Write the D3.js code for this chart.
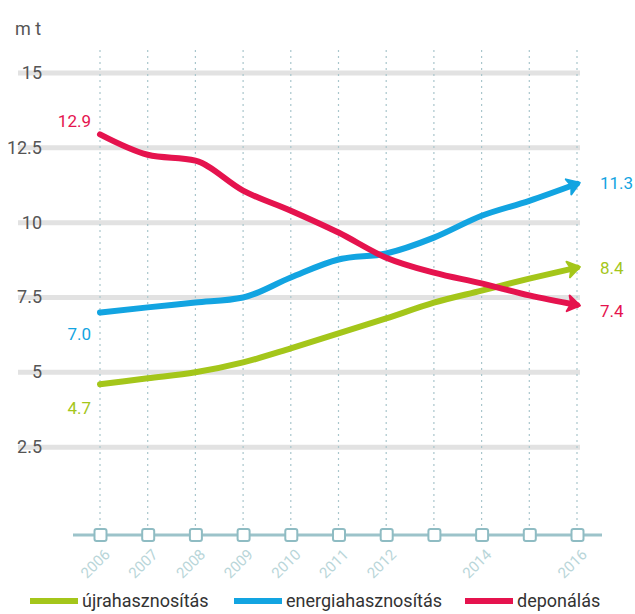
<!DOCTYPE html>
<html><head><meta charset="utf-8">
<script src="https://cdn.jsdelivr.net/npm/d3@7"></script>
<style>
html,body{margin:0;padding:0;background:#fff;}
svg{display:block;font-family:Roboto, "DejaVu Sans", sans-serif;}
</style></head>
<body><svg id="c" width="635" height="614"></svg>
<script>
const years = [2006,2007,2008,2009,2010,2011,2012,2013,2014,2015,2016];
const yearLabels = ["2006","2007","2008","2009","2010","2011","2012","","2014","","2016"];
const recycling = [4.6,4.8,5.0,5.33,5.8,6.3,6.8,7.33,7.73,8.13,8.5];
const energy = [7.0,7.17,7.33,7.5,8.17,8.77,8.97,9.5,10.23,10.73,11.3];
const landfill = [12.95,12.27,12.07,11.07,10.4,9.67,8.83,8.33,7.97,7.57,7.25];
const yTicks = [2.5,5,7.5,10,12.5,15];
const seriesNames = ["újrahasznosítás","energiahasznosítás","deponálás"];
const seriesColors = ["#a4c61a","#12a4e1","#e5134e"];
const startLabels = ["4.7","7.0","12.9"];
const endLabels = ["8.4","11.3","7.4"];
const unitLabel = "m t";

const svg = d3.select("#c");
const x = d3.scaleLinear().domain([2006,2016]).range([100,577]);
const y = d3.scaleLinear().domain([0,15]).range([522,73]);
const axisY = 535;

// horizontal grid bands
svg.append("g").selectAll("line").data(yTicks).join("line")
  .attr("x1",18).attr("x2",580)
  .attr("y1",d=>y(d)).attr("y2",d=>y(d))
  .attr("stroke","#e2e2e2").attr("stroke-width",5);

// vertical dashed lines
svg.append("g").selectAll("line").data(years).join("line")
  .attr("x1",d=>x(d)).attr("x2",d=>x(d))
  .attr("y1",50).attr("y2",axisY)
  .attr("stroke","#a9c6cc").attr("stroke-width",1.2).attr("stroke-dasharray","2,4");

// x axis
const xAxis = d3.axisBottom(x).tickValues(years).tickSize(0).tickPadding(0)
  .tickFormat((d,i)=>yearLabels[i]);
const gx = svg.append("g").attr("transform",`translate(0,${axisY})`).call(xAxis);
gx.select(".domain").remove();
gx.insert("line",":first-child").attr("x1",73).attr("x2",602).attr("y1",0).attr("y2",0)
  .attr("stroke","#9cc3ca").attr("stroke-width",3);
gx.selectAll(".tick").append("rect").attr("x",-6).attr("y",-6).attr("width",12).attr("height",12)
  .attr("rx",2).attr("fill","#fff").attr("stroke","#8fbcc3").attr("stroke-width",2);
gx.selectAll(".tick text").attr("font-size",15).attr("fill","#b9d6d9")
  .attr("text-anchor","end").attr("y",0).attr("dy","0.7em")
  .attr("transform","translate(3,13) rotate(-45)")
  .attr("font-family","Roboto, sans-serif");

// y axis labels
const yAxis = d3.axisLeft(y).tickValues(yTicks).tickSize(0).tickPadding(0)
  .tickFormat(d=>String(d));
const gy = svg.append("g").attr("transform","translate(42,0)").call(yAxis);
gy.select(".domain").remove();
gy.selectAll("text").attr("font-size",18).attr("fill","#555").attr("dy","0.3em")
  .attr("font-family","Roboto, sans-serif");

svg.append("text").attr("x",15).attr("y",35).attr("font-size",18).attr("fill","#555").text(unitLabel);

// arrow markers
const defs = svg.append("defs");
seriesColors.forEach((c,i)=>{
  defs.append("marker").attr("id","arr"+i).attr("markerUnits","userSpaceOnUse")
    .attr("viewBox","-10 -10 20 20").attr("refX",2).attr("refY",0)
    .attr("markerWidth",20).attr("markerHeight",20).attr("orient","auto")
    .append("path").attr("d","M-7,-8 L5,0 L-7,8 L-4,0 Z").attr("fill",c)
    .attr("stroke",c).attr("stroke-width",2).attr("stroke-linejoin","round");
});

const line = d3.line().x((d,i)=>x(years[i])).y(d=>y(d)).curve(d3.curveMonotoneX);
[recycling, energy, landfill].forEach((s,i)=>{
  svg.append("path").datum(s).attr("d",line).attr("fill","none")
    .attr("stroke",seriesColors[i]).attr("stroke-width",6)
    .attr("stroke-linecap","round").attr("stroke-linejoin","round")
    .attr("marker-end",`url(#arr${i})`);
});

// value labels
[recycling, energy, landfill].forEach((s,i)=>{
  svg.append("text").attr("x",x(years[0])-9).attr("y",[414,340,127][i])
    .attr("text-anchor","end").attr("font-size",17).attr("fill",seriesColors[i]).text(startLabels[i]);
  svg.append("text").attr("x",600).attr("y",[274,189,317][i])
    .attr("font-size",17).attr("fill",seriesColors[i]).text(endLabels[i]);
});

// legend
const legendX = [30,234,465];
const lg = svg.append("g").attr("transform","translate(0,601)");
seriesNames.forEach((n,i)=>{
  lg.append("line").attr("x1",legendX[i]).attr("x2",legendX[i]+48).attr("y1",0).attr("y2",0)
    .attr("stroke",seriesColors[i]).attr("stroke-width",6);
  lg.append("text").attr("x",legendX[i]+52).attr("y",0).attr("dy","0.35em")
    .attr("font-size",18).attr("fill","#333").text(n);
});
</script></body></html>
